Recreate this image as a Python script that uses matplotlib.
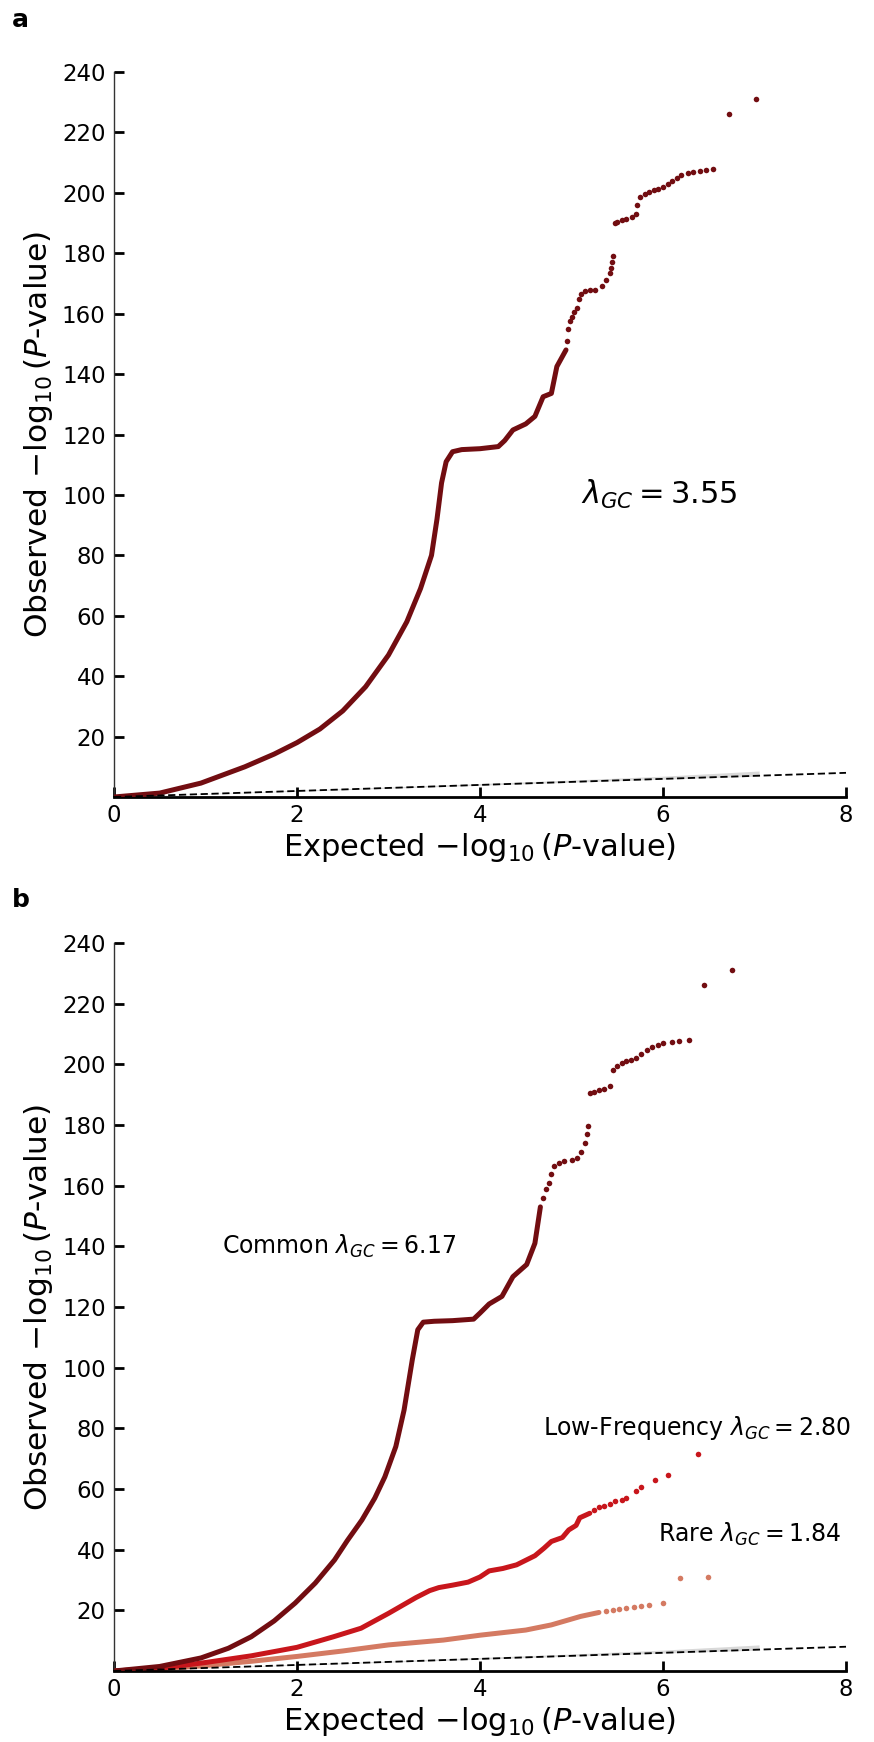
import matplotlib
matplotlib.use("Agg")
import matplotlib.pyplot as plt

# ---------------- data ----------------
# Panel a: all variants (dense part drawn as a thick trace, sparse tail as dots)
a_dense_x = [0, 0.5, 0.95, 1.43, 1.75, 2.0, 2.25, 2.5, 2.75, 3.0, 3.2, 3.35, 3.47, 3.53, 3.58, 3.63, 3.7, 3.8, 4.0, 4.2, 4.27, 4.36, 4.5, 4.6, 4.69, 4.78, 4.84, 4.94]
a_dense_y = [0, 1.3, 4.6, 10, 14.2, 18, 22.5, 28.5, 36.5, 47, 58, 69, 80, 92, 104, 111, 114.3, 115, 115.3, 116, 118, 121.5, 123.5, 126, 132.5, 133.6, 142.5, 148]
a_tail_x = [4.95, 4.96, 4.98, 5.0, 5.03, 5.06, 5.08, 5.1, 5.15, 5.2, 5.26, 5.33, 5.38, 5.42, 5.43, 5.44, 5.45,
            5.47, 5.5, 5.55, 5.6, 5.66, 5.7, 5.72, 5.75, 5.8, 5.85, 5.9, 5.95, 6.0, 6.05, 6.1, 6.15, 6.2, 6.27,
            6.33, 6.4, 6.47, 6.55, 6.72, 7.02]
a_tail_y = [151, 155, 157.5, 159, 160.5, 162, 165, 166.5, 167.5, 167.8, 168, 169, 171, 173.5, 175, 177, 179,
            190, 190.5, 191, 191.5, 192, 193, 196, 198.5, 199.5, 200.2, 200.8, 201.3, 202, 203, 204, 205, 205.8, 206.5,
            207, 207.2, 207.5, 208, 226, 231]
a_lambda = 3.55

# Panel b: common variants
c_dense_x = [0, 0.5, 0.95, 1.25, 1.5, 1.75, 1.98, 2.2, 2.41, 2.55, 2.71, 2.85, 2.96, 3.08, 3.17, 3.26, 3.32, 3.38, 3.5, 3.7, 3.93, 4.0, 4.1, 4.24, 4.36, 4.51, 4.6, 4.66]
c_dense_y = [0, 1.5, 4.3, 7.5, 11.3, 16.5, 22.4, 29, 36.6, 43, 49.8, 57, 64, 74, 86, 102.6, 112.5, 115, 115.3, 115.5, 116, 118, 121, 123.5, 130, 134, 141, 153]
c_tail_x = [4.69, 4.72, 4.75, 4.78, 4.81, 4.86, 4.92, 5.0, 5.06, 5.1, 5.15, 5.17, 5.18, 5.2, 5.25, 5.3, 5.36, 5.42,
            5.45, 5.5, 5.55, 5.6, 5.65, 5.7, 5.76, 5.82, 5.88, 5.94, 6.0, 6.1, 6.18, 6.28, 6.45, 6.75]
c_tail_y = [156, 159, 161, 164, 166.5, 167.5, 168, 168.5, 169, 171, 174, 177, 179.6, 190.5, 191, 191.5, 192, 193,
            198, 199.5, 200.3, 201, 201.5, 202.2, 203.5, 204.8, 205.8, 206.5, 207, 207.3, 207.6, 208, 226, 231]
c_lambda = 6.17

# Panel b: low-frequency variants
l_dense_x = [0, 0.5, 1.0, 1.5, 2.0, 2.4, 2.7, 3.0, 3.3, 3.45, 3.55, 3.7, 3.87, 4.0, 4.1, 4.25, 4.4, 4.6, 4.7, 4.78, 4.9, 4.97, 5.05, 5.09, 5.2]
l_dense_y = [0, 0.9, 2.8, 5, 7.8, 11.3, 14.1, 19, 24.2, 26.5, 27.5, 28.3, 29.3, 31, 33, 33.8, 35, 38, 40.5, 42.7, 44, 46.5, 48, 50.5, 52]
l_tail_x = [5.25, 5.3, 5.36, 5.42, 5.48, 5.55, 5.6, 5.7, 5.76, 5.91, 6.06, 6.38]
l_tail_y = [53, 54, 54.5, 55, 56, 56.5, 57, 59.5, 60.5, 63, 64.5, 71.6]
l_lambda = 2.80

# Panel b: rare variants
r_dense_x = [0, 0.5, 1.0, 1.5, 2.0, 2.5, 3.0, 3.6, 4.0, 4.5, 4.78, 5.1, 5.3]
r_dense_y = [0, 0.7, 1.8, 3.2, 4.8, 6.6, 8.6, 10.2, 11.8, 13.5, 15.2, 18, 19.3]
r_tail_x = [5.38, 5.45, 5.52, 5.6, 5.68, 5.76, 5.85, 6.0, 6.19, 6.49]
r_tail_y = [19.7, 20.1, 20.4, 20.8, 21.1, 21.5, 21.9, 22.4, 30.7, 31.1]
r_lambda = 1.84

# Null expectation and its confidence band
null_x = [0, 8]
null_y = [0, 8]
band_x = [0, 3, 5, 6, 7.05]
band_lo = [0, 2.9, 4.9, 5.9, 6.9]
band_hi = [0, 3.3, 5.6, 6.9, 8.6]

x_ticks = [0, 2, 4, 6, 8]
y_ticks = [20, 40, 60, 80, 100, 120, 140, 160, 180, 200, 220, 240]

COMMON = "#720d11"
LOWF = "#c8161c"
RARE = "#d47a62"

# ---------------- figure ----------------
W, H = 874, 1742
fig = plt.figure(figsize=(W / 100, H / 100), dpi=100)

def make_axes(top_px, bottom_px):
    left = 114 / W
    right = 846 / W
    ax = fig.add_axes([left, 1 - bottom_px / H, right - left, (bottom_px - top_px) / H])
    ax.set_xlim(0, 8)
    ax.set_ylim(0, 240)
    ax.spines["top"].set_visible(False)
    ax.spines["right"].set_visible(False)
    ax.spines["left"].set_linewidth(1.0)
    ax.spines["left"].set_color("#333333")
    ax.spines["bottom"].set_linewidth(2.0)
    ax.set_xticks(x_ticks)
    ax.set_yticks(y_ticks)
    ax.tick_params(axis="both", direction="in", length=7, width=2, labelsize=16.5, color="black")
    ax.tick_params(axis="y", pad=6)
    ax.tick_params(axis="x", pad=5)
    ax.set_xlabel("Expected $-\\log_{10}(\\mathit{P}$-value)", fontsize=22, labelpad=3)
    ax.set_ylabel("Observed $-\\log_{10}(\\mathit{P}$-value)", fontsize=22.5, labelpad=5)
    ax.fill_between(band_x, band_lo, band_hi, color="#d9d9d9", lw=0, zorder=1)
    ax.plot(null_x, null_y, ls=(0, (4, 2)), color="black", lw=1.3, zorder=4, clip_on=False)
    return ax

def draw_series(ax, dx, dy, tx, ty, color, z):
    ax.plot(dx, dy, color=color, lw=3.6, solid_capstyle="round", solid_joinstyle="round", zorder=z)
    ax.scatter(tx, ty, s=16, color=color, linewidths=0, zorder=z)

# Panel a
ax1 = make_axes(72, 797)
draw_series(ax1, a_dense_x, a_dense_y, a_tail_x, a_tail_y, COMMON, 3)
ax1.text(5.1, 100, "$\\lambda_{GC} = %.2f$" % a_lambda, fontsize=22, va="center", ha="left")

# Panel b
ax2 = make_axes(943, 1671)
draw_series(ax2, r_dense_x, r_dense_y, r_tail_x, r_tail_y, RARE, 2)
draw_series(ax2, l_dense_x, l_dense_y, l_tail_x, l_tail_y, LOWF, 2.5)
draw_series(ax2, c_dense_x, c_dense_y, c_tail_x, c_tail_y, COMMON, 3)
ax2.text(1.18, 140, "Common $\\lambda_{GC} = %.2f$" % c_lambda, fontsize=17, va="center", ha="left")
ax2.text(8.05, 80, "Low-Frequency $\\lambda_{GC} = %.2f$" % l_lambda, fontsize=17, va="center", ha="right", clip_on=False)
ax2.text(7.95, 45, "Rare $\\lambda_{GC} = %.2f$" % r_lambda, fontsize=17, va="center", ha="right")

fig.text(12 / W, 1 - 20 / H, "a", fontsize=18, fontweight="bold", va="center", ha="left")
fig.text(12 / W, 1 - 900 / H, "b", fontsize=18, fontweight="bold", va="center", ha="left")

fig.savefig("out.png", dpi=100, facecolor="white")
